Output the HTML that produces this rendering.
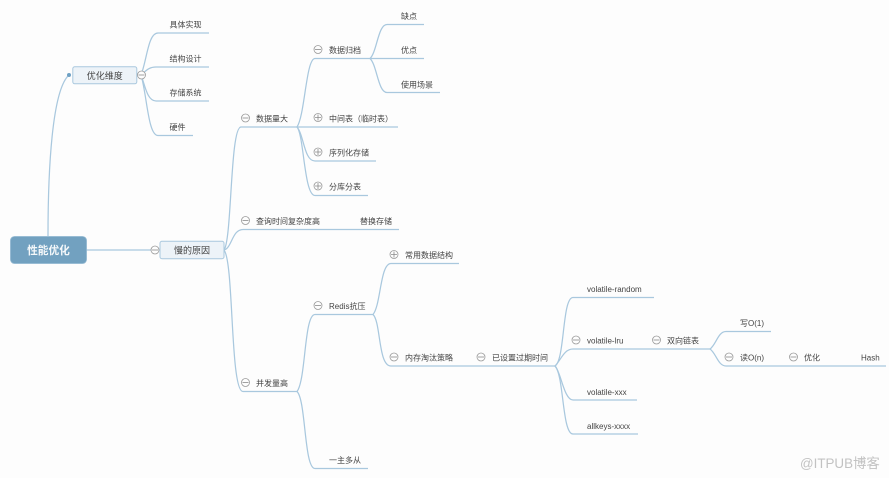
<!DOCTYPE html>
<html><head><meta charset="utf-8"><style>
html,body{margin:0;padding:0;background:#fdfdfd}
svg{display:block}
#all{filter:blur(.3px)}
text{font-family:"Liberation Sans","Noto Sans CJK SC",sans-serif;font-size:8px;fill:#444}
.l{fill:none;stroke:#a9c8de;stroke-width:1.25}
.c{fill:#fdfdfd;stroke:#9a9a9a;stroke-width:.8}
.m{fill:none;stroke:#8a8a8a;stroke-width:.8}
</style></head><body>
<svg width="889" height="478" viewBox="0 0 889 478" xmlns="http://www.w3.org/2000/svg">
<rect width="889" height="478" fill="#fdfdfd"/>
<g id="all">
<g class="l">
<path class="l" d="M48 236C48 170 52 90 69 75"/>
<path class="l" d="M86 250H155"/>
<path class="l" d="M141 75C147 60 148 33 158 33H209"/>
<path class="l" d="M141 75C145 72 148 67 156 67H209"/>
<path class="l" d="M141 75C145 85 147 101 156 101H209"/>
<path class="l" d="M141 75C147 95 148 135.500 158 135.500H193"/>
<path class="l" d="M224 250C232 240 230 127 241 127H297"/>
<path class="l" d="M224 250C232 248 232 229.500 243 229.500H399"/>
<path class="l" d="M224 250C234 262 230 391.500 243 391.500H297"/>
<path class="l" d="M297 127C305 115 306 58.500 315 58.500H370"/>
<path class="l" d="M297 127H398"/>
<path class="l" d="M297 127C304 135 304 161 315 161H376"/>
<path class="l" d="M297 127C304 135 304 195.500 315 195.500H368"/>
<path class="l" d="M370 58.500C377 52 378 24.500 387 24.500H424"/>
<path class="l" d="M370 58.500H424"/>
<path class="l" d="M370 58.500C377 65 378 92.500 387 92.500H440"/>
<path class="l" d="M297 391.500C306 380 304 314.500 315 314.500H373"/>
<path class="l" d="M297 391.500C306 400 304 468.500 315 468.500H368"/>
<path class="l" d="M373 314.500C381 305 380 263.500 391 263.500H459"/>
<path class="l" d="M373 314.500C381 322 378 366 391 366H555"/>
<path class="l" d="M555 366C565 360 562 297.500 573 297.500H654"/>
<path class="l" d="M555 366C561 360 564 349 573 349H710"/>
<path class="l" d="M555 366C561 372 564 400 573 400H637"/>
<path class="l" d="M555 366C564 375 562 434 573 434H638"/>
<path class="l" d="M710 349C716 345 718 331.500 726 331.500H771"/>
<path class="l" d="M710 349C716 353 718 366 726 366H886"/>
</g>
<circle cx="69" cy="75" r="2" fill="#6fa1c4"/>
<rect x="10.500" y="236.500" width="76" height="27" rx="4" fill="#72a1c0" stroke="#8fb6d0" stroke-width=".8"/>
<text x="48.500" y="254" text-anchor="middle" style="font-size:10.700px;fill:#f5f8fa;font-weight:bold">性能优化</text>
<rect x="72.800" y="66.800" width="64" height="17" rx="2" fill="#edf3f8" stroke="#a9c8de" stroke-width="1"/>
<text x="104.800" y="79" text-anchor="middle" style="font-size:9px">优化维度</text>
<rect x="160" y="241.300" width="64" height="17.400" rx="2" fill="#edf3f8" stroke="#a9c8de" stroke-width="1"/>
<text x="192" y="253.500" text-anchor="middle" style="font-size:9px">慢的原因</text>
<g id="minus">
<circle class="c" cx="141.500" cy="75" r="4"/><path class="m" d="M138.500 75h6"/>
<circle class="c" cx="155" cy="250" r="4"/><path class="m" d="M152 250h6"/>
<circle class="c" cx="245.500" cy="118" r="4"/><path class="m" d="M242.500 118h6"/>
<circle class="c" cx="245.500" cy="220.500" r="4"/><path class="m" d="M242.500 220.500h6"/>
<circle class="c" cx="245.500" cy="382.500" r="4"/><path class="m" d="M242.500 382.500h6"/>
<circle class="c" cx="318" cy="49.500" r="4"/><path class="m" d="M315 49.500h6"/>
<circle class="c" cx="318" cy="305.500" r="4"/><path class="m" d="M315 305.500h6"/>
<circle class="c" cx="394" cy="357" r="4"/><path class="m" d="M391 357h6"/>
<circle class="c" cx="481" cy="357" r="4"/><path class="m" d="M478 357h6"/>
<circle class="c" cx="576" cy="340" r="4"/><path class="m" d="M573 340h6"/>
<circle class="c" cx="656.500" cy="340" r="4"/><path class="m" d="M653.500 340h6"/>
<circle class="c" cx="729" cy="357" r="4"/><path class="m" d="M726 357h6"/>
<circle class="c" cx="793.500" cy="357" r="4"/><path class="m" d="M790.500 357h6"/>
</g>
<g>
<circle class="c" cx="318" cy="117.500" r="4"/><path class="m" d="M315 117.500h6M318 114.500v6"/>
<circle class="c" cx="318" cy="152" r="4"/><path class="m" d="M315 152h6M318 149v6"/>
<circle class="c" cx="318" cy="186" r="4"/><path class="m" d="M315 186h6M318 183v6"/>
<circle class="c" cx="394" cy="254.500" r="4"/><path class="m" d="M391 254.500h6M394 251.500v6"/>
</g>
<text x="169.500" y="27.500">具体实现</text>
<text x="169.500" y="61.500">结构设计</text>
<text x="169.500" y="95.500">存储系统</text>
<text x="169.500" y="130">硬件</text>
<text x="256" y="121.500">数据量大</text>
<text x="256" y="224">查询时间复杂度高</text>
<text x="360" y="224">替换存储</text>
<text x="256" y="386">并发量高</text>
<text x="329" y="53">数据归档</text>
<text x="401" y="19">缺点</text>
<text x="401" y="53">优点</text>
<text x="401" y="87.500">使用场景</text>
<text x="329" y="121.500">中间表（临时表）</text>
<text x="329" y="155.500">序列化存储</text>
<text x="329" y="189.500">分库分表</text>
<text x="329" y="309">Redis抗压</text>
<text x="329" y="463">一主多从</text>
<text x="405" y="258">常用数据结构</text>
<text x="405" y="360.500">内存淘汰策略</text>
<text x="492" y="360.500">已设置过期时间</text>
<text x="587" y="292">volatile-random</text>
<text x="587" y="343.500">volatile-lru</text>
<text x="667" y="343.500">双向链表</text>
<text x="740" y="326">写O(1)</text>
<text x="740" y="360.500">读O(n)</text>
<text x="804" y="360.500">优化</text>
<text x="861" y="360.500">Hash</text>
<text x="587" y="395">volatile-xxx</text>
<text x="587" y="429">allkeys-xxxx</text>
<text x="800" y="468" style="font-size:13.400px;fill:#c2c2c2">@ITPUB博客</text>
</g>
</svg>
</body></html>
